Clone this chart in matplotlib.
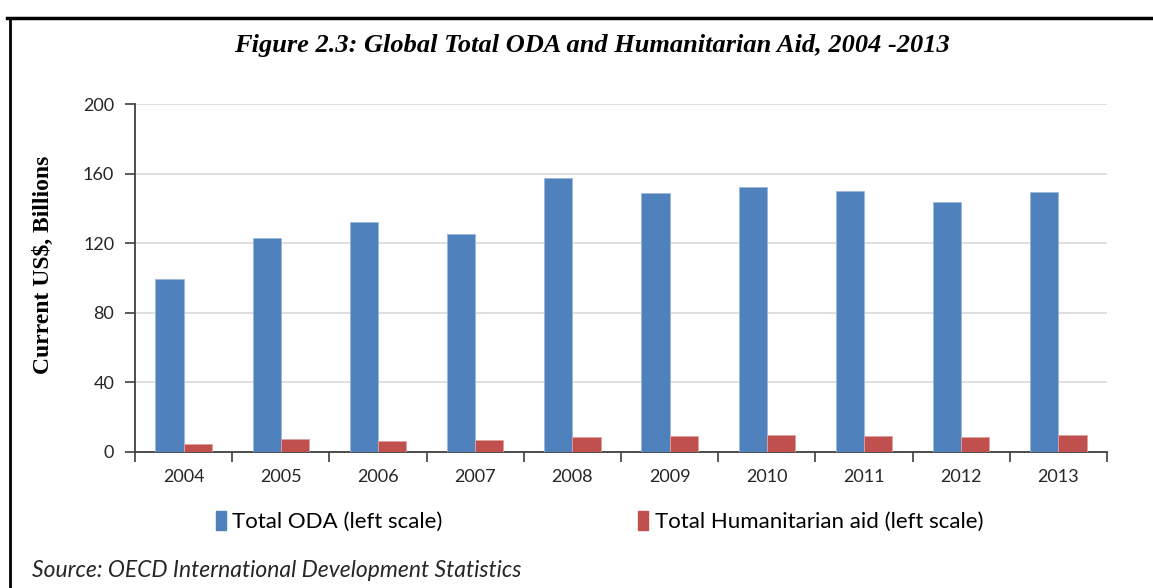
import matplotlib.pyplot as plt
import numpy as np
from matplotlib.lines import Line2D
from matplotlib.patches import Patch

years = ["2004", "2005", "2006", "2007", "2008", "2009", "2010", "2011", "2012", "2013"]
total_oda = [99.5, 123.0, 132.4, 125.1, 157.4, 148.6, 152.3, 150.1, 143.4, 149.4]
humanitarian = [4.6, 7.7, 6.3, 6.9, 8.4, 9.0, 9.7, 9.0, 8.4, 9.7]

blue = "#4f81bd"
red = "#c0504d"

fig = plt.figure(figsize=(11.53, 5.88), dpi=100)
ax = fig.add_axes([0.1171, 0.2313, 0.8430, 0.5918])

x = np.arange(len(years))
w = 0.29
ax.bar(x - w / 2, total_oda, w, color=blue, edgecolor="#9db7dc", linewidth=0.6, zorder=3)
ax.bar(x + w / 2, humanitarian, w, color=red, edgecolor="#e0a09e", linewidth=0.6, zorder=3)

ax.set_xlim(-0.5, len(years) - 0.5)
ax.set_ylim(0, 200)
ax.set_yticks([0, 40, 80, 120, 160, 200])
ax.yaxis.grid(True, color="#d9d9d9", linewidth=1.2, zorder=0)
ax.set_axisbelow(True)

# category ticks sit between groups, labels at group centres
ax.set_xticks(np.arange(-0.5, len(years)), minor=False)
ax.set_xticklabels([])
ax.set_xticks(x, minor=True)
ax.set_xticklabels(years, minor=True)
ax.tick_params(axis="x", which="minor", length=0, pad=12)
ax.tick_params(axis="x", which="major", length=7, width=1.2, color="#404040")
ax.tick_params(axis="y", length=7, width=1.2, color="#404040", pad=8)
for lab in ax.get_xticklabels(minor=True) + ax.get_yticklabels():
    lab.set_fontfamily("Lato")
    lab.set_fontsize(13)
    lab.set_color("#262626")

for s in ["top", "right"]:
    ax.spines[s].set_visible(False)
ax.spines["left"].set_color("#404040")
ax.spines["bottom"].set_color("#404040")
ax.spines["left"].set_linewidth(1.3)
ax.spines["bottom"].set_linewidth(1.3)

ax.set_ylabel("Current US$, Billions", family="Liberation Serif", weight="bold",
              fontsize=17)
ax.yaxis.set_label_coords(-0.0833, 0.537)

fig.text(0.513, 0.923, "Figure 2.3: Global Total ODA and Humanitarian Aid, 2004 -2013",
         family="Liberation Serif", weight="bold", style="italic", fontsize=19,
         ha="center", va="center")

handles = [Patch(facecolor=blue, edgecolor=blue),
           Patch(facecolor=red, edgecolor=red)]
fig.legend(handles, ["Total ODA (left scale)", "Total Humanitarian aid (left scale)"],
           loc="center", bbox_to_anchor=(0.52, 0.113), ncol=2, frameon=False,
           prop={"family": "Lato", "size": 16}, handlelength=0.45, handleheight=0.9,
           handletextpad=0.3, columnspacing=8.8)

fig.text(0.028, 0.030, "Source: OECD International Development Statistics",
         family="Lato", style="italic", fontsize=16.5, color="#262626",
         ha="left", va="center")

# page frame: top and left rules
fig.add_artist(Line2D([0.006, 1.0], [0.970, 0.970], color="black", linewidth=2.5,
                      transform=fig.transFigure))
fig.add_artist(Line2D([0.009, 0.009], [0.0, 0.970], color="black", linewidth=2.0,
                      transform=fig.transFigure))

fig.savefig("out.png", dpi=100)
